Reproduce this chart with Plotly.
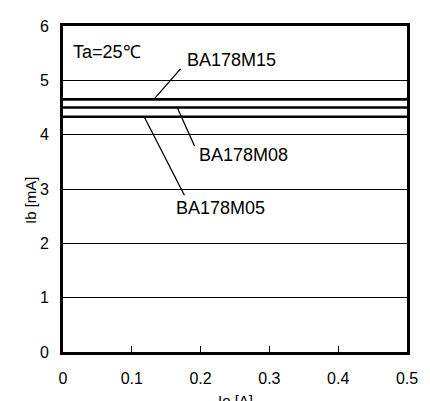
import plotly.graph_objects as go

io_x = [0, 0.5]
series_names = ["BA178M15", "BA178M08", "BA178M05"]
ib_m15 = [4.65, 4.65]
ib_m08 = [4.5, 4.5]
ib_m05 = [4.33, 4.33]
x_ticks = [0, 0.1, 0.2, 0.3, 0.4, 0.5]
y_ticks = [0, 1, 2, 3, 4, 5, 6]

FONT = "Liberation Sans, Arial, sans-serif"

fig = go.Figure()
for name, vals in zip(series_names, [ib_m15, ib_m08, ib_m05]):
    fig.add_trace(go.Scatter(x=io_x, y=vals, mode="lines", name=name,
                             line=dict(color="black", width=2.6), showlegend=False))

# leader lines (arrow without text)
leaders = [(0.132, ib_m15[0], 28, -32), (0.166, ib_m08[0], 18, 40), (0.118, ib_m05[0], 41, 80)]
for x, y, ax, ay in leaders:
    fig.add_annotation(x=x, y=y, ax=ax, ay=ay, text="", showarrow=True, arrowhead=0,
                       arrowwidth=1.3, arrowcolor="black", standoff=0, startstandoff=0)

labels = [("BA178M15", 0.1773, 5.37), ("BA178M08", 0.1948, 3.63), ("BA178M05", 0.161, 2.65),
          ("Ta=25℃", 0.0116, 5.52)]
for t, x, y in labels:
    fig.add_annotation(x=x, y=y, text=t, showarrow=False, xanchor="left", yanchor="middle",
                       font=dict(family=FONT, size=18, color="black"))

fig.add_annotation(x=0.5, xref="paper", y=0, yref="paper", yshift=-38, yanchor="top",
                   text="Io [A]", showarrow=False, font=dict(family=FONT, size=15, color="black"))
fig.add_annotation(x=0, xref="paper", xshift=-33, xanchor="center", y=0.5, yref="paper",
                   yshift=-11, yanchor="middle",
                   text="Ib [mA]", textangle=-90, showarrow=False,
                   font=dict(family=FONT, size=15, color="black"))

fig.update_layout(
    width=430, height=401,
    margin=dict(l=63, r=23, t=26, b=49),
    paper_bgcolor="white", plot_bgcolor="white",
    font=dict(family=FONT, size=16, color="black"),
    xaxis=dict(range=[0, 0.5], tickvals=x_ticks, ticktext=["0", "0.1", "0.2", "0.3", "0.4", "0.5"],
               showgrid=False, zeroline=False, showline=True, linecolor="black", linewidth=2.6,
               mirror=True, ticks="inside", ticklen=6, tickcolor="black", tickwidth=1.2,
               ticklabelstandoff=10),
    yaxis=dict(range=[0, 6], tickvals=y_ticks, showgrid=True, gridcolor="black", gridwidth=1,
               zeroline=False, showline=True, linecolor="black", linewidth=2.6, mirror=True,
               ticks="", ticklabelstandoff=8),
)

fig.write_html("out.html", config={"displayModeBar": False},
               post_script="document.body.style.margin='0';document.body.style.overflow='hidden';")
